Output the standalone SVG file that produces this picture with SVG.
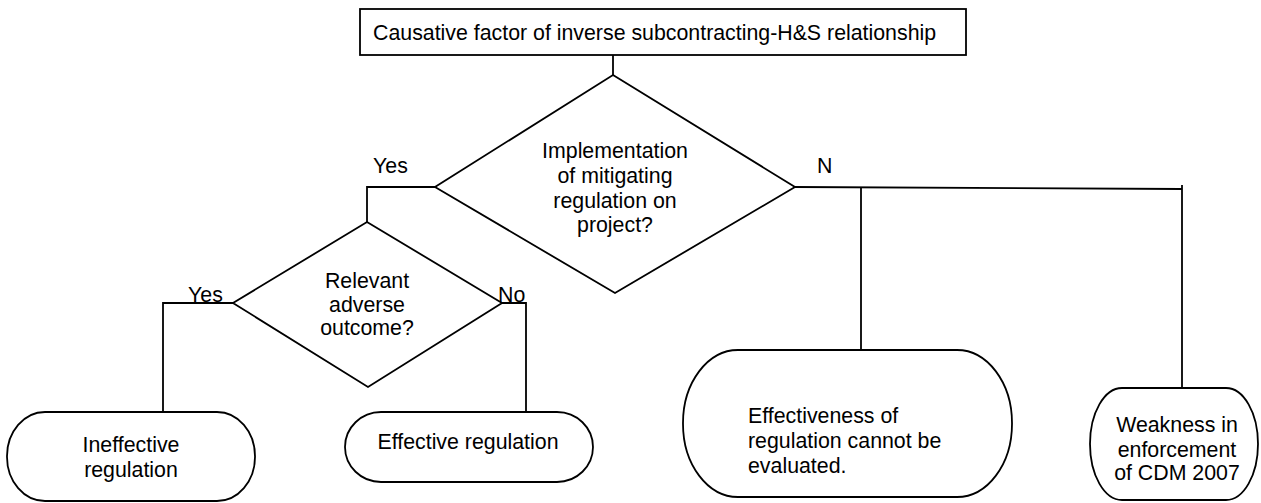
<svg xmlns="http://www.w3.org/2000/svg" width="1261" height="503" viewBox="0 0 1261 503">
<style>
.s{fill:#fff;stroke:#000;stroke-width:1.8}
.c{fill:none;stroke:#000;stroke-width:1.8}
text{font-family:"Liberation Sans",Arial,sans-serif;font-size:21.33px;fill:#000}
.m{text-anchor:middle}
</style>
<rect width="1261" height="503" fill="#fff"/>
<g id="connectors">
<path class="c" d="M613 55V75"/>
<path class="c" d="M435 187H367V222"/>
<path class="c" d="M233 303H163V412"/>
<path class="c" d="M502 303H526V412"/>
<path class="c" d="M795 187L1182 189"/>
<path class="c" d="M861 187V350"/>
<path class="c" d="M1182 185V388"/>
</g>
<g id="labels">
<text x="373" y="173">Yes</text>
<text x="817" y="173">N</text>
<text x="188" y="302">Yes</text>
<text x="498" y="302">No</text>
</g>
<g id="top">
<rect class="s" x="360" y="9" width="606" height="46"/>
<text x="373" y="40">Causative factor of inverse subcontracting-H&amp;S relationship</text>
</g>
<g id="decision1">
<polygon class="s" points="613,75 795,187 615,293 435,187"/>
<text class="m" x="615" y="158">Implementation</text>
<text class="m" x="615" y="183">of mitigating</text>
<text class="m" x="615" y="208">regulation on</text>
<text class="m" x="615" y="232">project?</text>
</g>
<g id="decision2">
<polygon class="s" points="367,222 502,303 368,387 233,303"/>
<text class="m" x="367" y="288">Relevant</text>
<text class="m" x="367" y="312">adverse</text>
<text class="m" x="367" y="335">outcome?</text>
</g>
<g id="ineffective">
<rect class="s" x="7" y="412" width="248" height="89" rx="38" ry="44"/>
<text class="m" x="131" y="452">Ineffective</text>
<text class="m" x="131" y="477">regulation</text>
</g>
<g id="effective">
<rect class="s" x="345" y="412" width="248" height="70" rx="36" ry="35"/>
<text class="m" x="468" y="449">Effective regulation</text>
</g>
<g id="cannot">
<rect class="s" x="683" y="350" width="329" height="147" rx="55" ry="73"/>
<text x="748" y="423">Effectiveness of</text>
<text x="748" y="448">regulation cannot be</text>
<text x="748" y="473">evaluated.</text>
</g>
<g id="weakness">
<rect class="s" x="1090" y="388" width="168" height="112" rx="32" ry="56"/>
<text class="m" x="1177" y="432">Weakness in</text>
<text class="m" x="1177" y="457">enforcement</text>
<text class="m" x="1177" y="480">of CDM 2007</text>
</g>
</svg>
